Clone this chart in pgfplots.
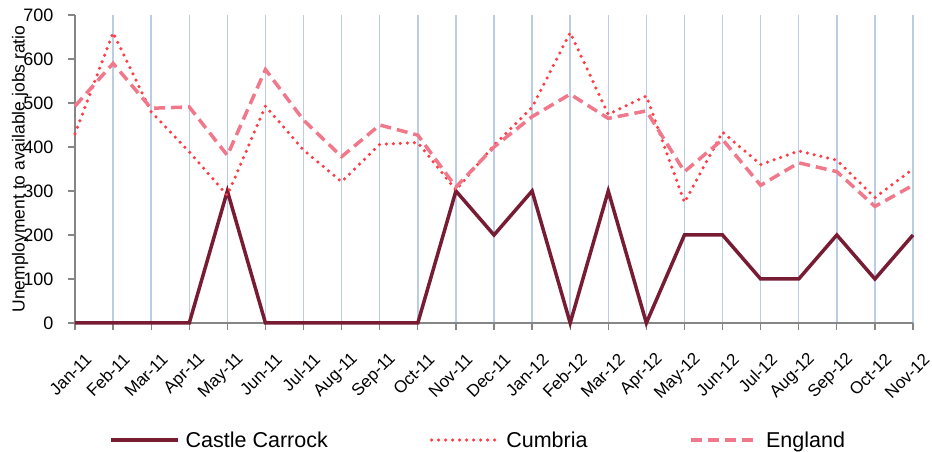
\documentclass[border=0pt]{standalone}
\usepackage{fontspec}
\setmainfont{Liberation Sans}
\usepackage{pgfplots}
\pgfplotsset{compat=1.18}

\definecolor{castle}{HTML}{771C33}
\definecolor{cumbria}{HTML}{FF3B44}
\definecolor{england}{HTML}{F0788A}
\definecolor{gridblue}{HTML}{B9CDE5}
\definecolor{axgray}{HTML}{868686}

\begin{document}
\begin{tikzpicture}
\begin{axis}[
    name=ax,
    scale only axis,
    width=838pt, height=308pt,
    xmin=0, xmax=22,
    ymin=0, ymax=700,
    ytick={0,100,...,700},
    xtick={0,...,22},
    xticklabels={Jan-11,Feb-11,Mar-11,Apr-11,May-11,Jun-11,Jul-11,Aug-11,Sep-11,Oct-11,Nov-11,Dec-11,
                 Jan-12,Feb-12,Mar-12,Apr-12,May-12,Jun-12,Jul-12,Aug-12,Sep-12,Oct-12,Nov-12},
    axis x line=bottom, axis y line=left,
    axis line style={-, axgray, line width=1.5pt},
    tick style={axgray, line width=1.2pt},
    tick align=outside,
    major tick length=7pt,
    xmajorgrids=true,
    grid style={gridblue, line width=1.4pt},
    /pgf/number format/assume math mode=true,
    tick label style={font=\fontsize{17}{19}\selectfont},
    xticklabel style={xshift=16pt, yshift=-24pt, rotate=45, anchor=east},
    yticklabel style={font=\fontsize{18}{20}\selectfont, xshift=-11pt},
    ylabel={Unemployment to available jobs ratio},
    ylabel style={at={(axis description cs:0,0.5)}, anchor=center, yshift=55pt, font=\fontsize{17.5}{19}\selectfont},
    legend columns=3,
    legend style={at={(axis description cs:0.481,-0.38)}, anchor=center, draw=none,
                  font=\fontsize{21.5}{23}\selectfont, column sep=4pt,
                  /tikz/every even column/.append style={column sep=100pt}},
    legend image code/.code={\draw[#1] (0pt,0pt) -- (67pt,0pt);},
    clip=false,
]
% Castle Carrock
\addplot[castle, line width=3.5pt, line join=miter] coordinates {
    (0,0) (1,0) (2,0) (3,0) (4,300) (5,0) (6,0) (7,0) (8,0) (9,0) (10,300) (11,200)
    (12,300) (13,0) (14,300) (15,0) (16,200) (17,200) (18,100) (19,100) (20,200) (21,100) (22,200)
};
% Cumbria
\addplot[cumbria, line width=3.5pt, line cap=round, dash pattern=on 0pt off 7pt] coordinates {
    (0,430) (1,660) (2,480) (3,389) (4,290) (5,493) (6,393) (7,321) (8,406) (9,410) (10,302) (11,404)
    (12,490) (13,660) (14,474) (15,516) (16,274) (17,434) (18,360) (19,391) (20,370) (21,285) (22,350)
};
% England
\addplot[england, line width=3.5pt, dash pattern=on 11pt off 6pt] coordinates {
    (0,493) (1,590) (2,488) (3,491) (4,381) (5,576) (6,461) (7,378) (8,450) (9,427) (10,309) (11,400)
    (12,469) (13,520) (14,465) (15,482) (16,344) (17,417) (18,313) (19,364) (20,344) (21,265) (22,313)
};
\addlegendentry{Castle Carrock}
\addlegendentry{Cumbria}
\addlegendentry{England}
\end{axis}
\pgfresetboundingbox
\path (ax.south west) ++(-75pt,-129pt) rectangle ([shift={(19pt,15pt)}]ax.north east);
\end{tikzpicture}
\end{document}
